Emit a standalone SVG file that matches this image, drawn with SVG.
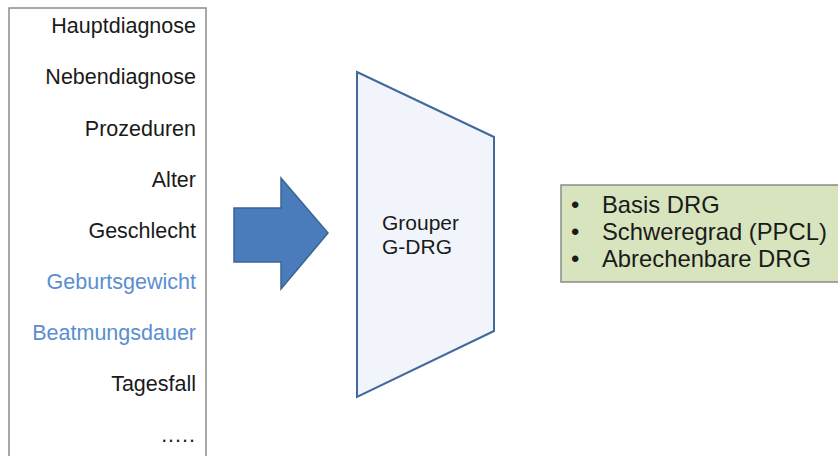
<svg xmlns="http://www.w3.org/2000/svg" width="838" height="456" viewBox="0 0 838 456">
<style>
text{font-family:"Liberation Sans",Arial,sans-serif}
.l{font-size:21.5px;fill:#1a1a1a;text-anchor:end}
.b{fill:#5b8ed0}
.g{font-size:21px;fill:#1a1a1a}
.r{font-size:23.8px;fill:#1a1a1a}
</style>
<rect width="838" height="456" fill="#fff"/>
<g id="inputs">
<rect x="9" y="8" width="197" height="460" fill="#fff" stroke="#8c8c8c" stroke-width="1.5"/>
<text class="l" x="196" y="33">Hauptdiagnose</text>
<text class="l" x="196" y="84">Nebendiagnose</text>
<text class="l" x="196" y="136">Prozeduren</text>
<text class="l" x="196" y="187">Alter</text>
<text class="l" x="196" y="238">Geschlecht</text>
<text class="l b" x="196" y="289">Geburtsgewicht</text>
<text class="l b" x="196" y="340">Beatmungsdauer</text>
<text class="l" x="196" y="391">Tagesfall</text>
<text class="l" x="196" y="442" letter-spacing="1">.....</text>
</g>
<g id="connectors">
<polygon points="234,208 281,208 281,178 328,233 281,289 281,262 234,262" fill="#4a7bbb" stroke="#3a6496" stroke-width="1.5"/>
</g>
<g id="grouper">
<polygon points="357,72 494,137 494,331 357,397" fill="#f1f5fb" stroke="#42699c" stroke-width="2"/>
<text class="g" x="382" y="230">Grouper</text>
<text class="g" x="382" y="254">G-DRG</text>
</g>
<g id="output">
<rect x="561" y="185" width="285" height="97" fill="#d7e4bd" stroke="#8a8a8a" stroke-width="1.5"/>
<text class="r" x="571" y="213">•</text>
<text class="r" x="602" y="213">Basis DRG</text>
<text class="r" x="571" y="240">•</text>
<text class="r" x="602" y="240">Schweregrad (PPCL)</text>
<text class="r" x="571" y="267">•</text>
<text class="r" x="602" y="267">Abrechenbare DRG</text>
</g>
</svg>
